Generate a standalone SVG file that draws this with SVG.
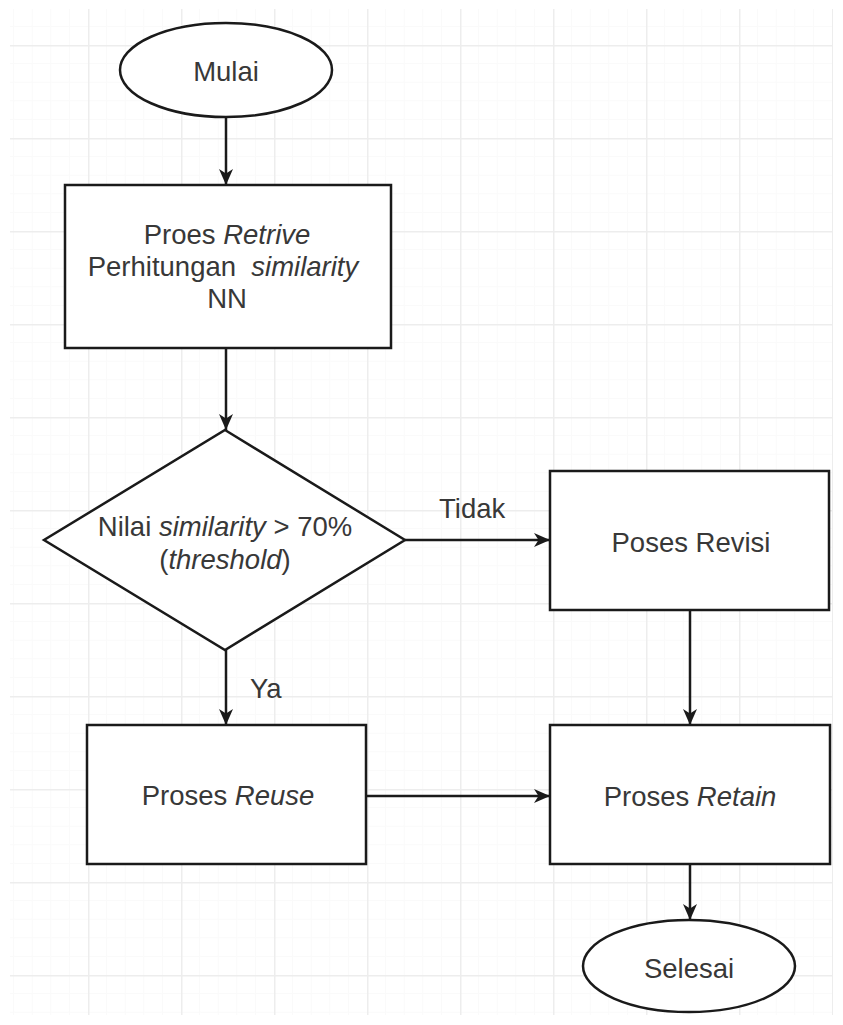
<svg xmlns="http://www.w3.org/2000/svg" width="843" height="1025" viewBox="0 0 843 1025">
  <defs>
    <!-- faint drawing-canvas grid -->
    <pattern id="grid" patternUnits="userSpaceOnUse" x="-5" y="-48" width="93" height="93">
      <path d="M18.6 0V93M37.2 0V93M55.8 0V93M74.4 0V93M0 18.6H93M0 37.2H93M0 55.8H93M0 74.4H93" fill="none" stroke="#fafafa" stroke-width="1"/>
      <path d="M0.5 0V93M0 0.5H93" fill="none" stroke="#ededed" stroke-width="2"/>
    </pattern>
    <marker id="arrow" markerUnits="userSpaceOnUse" markerWidth="18" markerHeight="16" refX="16" refY="7" orient="auto">
      <path d="M0,0 L16,7 L0,14 L4.5,7 Z" fill="#1a1a1a"/>
    </marker>
    <style>
      .shape { fill: #ffffff; stroke: #1a1a1a; stroke-width: 2.5; }
      .edge { fill: none; stroke: #1a1a1a; stroke-width: 2.5; marker-end: url(#arrow); }
      text { font-family: "Liberation Sans", Arial, sans-serif; font-size: 27.5px; fill: #383838; }
      .c { text-anchor: middle; }
      .i { font-style: italic; }
    </style>
  </defs>

  <rect width="843" height="1025" fill="#ffffff"/>
  <rect x="10" y="9" width="823" height="1006" fill="url(#grid)"/>

  <g id="connectors">
    <line class="edge" x1="226" y1="117" x2="226" y2="185"/>
    <line class="edge" x1="226" y1="348" x2="226" y2="430"/>
    <line class="edge" x1="226" y1="650" x2="226" y2="725"/>
    <line class="edge" x1="405" y1="540" x2="550" y2="540"/>
    <line class="edge" x1="690" y1="610" x2="690" y2="725"/>
    <line class="edge" x1="366" y1="796" x2="550" y2="796"/>
    <line class="edge" x1="690" y1="864" x2="690" y2="920"/>
    <text x="439" y="518">Tidak</text>
    <text x="250" y="698">Ya</text>
  </g>

  <g id="start">
    <ellipse class="shape" cx="226" cy="70" rx="106" ry="47"/>
    <text class="c" x="226" y="81">Mulai</text>
  </g>

  <g id="retrieve">
    <rect class="shape" x="65" y="185" width="326" height="163"/>
    <text class="c" x="227" y="244">Proes <tspan class="i">Retrive</tspan></text>
    <text class="c" x="223" y="276" xml:space="preserve">Perhitungan  <tspan class="i">similarity</tspan></text>
    <text class="c" x="227" y="308">NN</text>
  </g>

  <g id="decision">
    <polygon class="shape" points="225,430 405,540 225,650 44,540"/>
    <text class="c" x="225" y="536">Nilai <tspan class="i">similarity</tspan> &gt; 70%</text>
    <text class="c" x="225" y="569">(<tspan class="i">threshold</tspan>)</text>
  </g>

  <g id="revise">
    <rect class="shape" x="550" y="471" width="279" height="139"/>
    <text class="c" x="691" y="552">Poses Revisi</text>
  </g>

  <g id="reuse">
    <rect class="shape" x="87" y="725" width="279" height="139"/>
    <text class="c" x="228" y="805">Proses <tspan class="i">Reuse</tspan></text>
  </g>

  <g id="retain">
    <rect class="shape" x="550" y="725" width="280" height="139"/>
    <text class="c" x="690" y="806">Proses <tspan class="i">Retain</tspan></text>
  </g>

  <g id="end">
    <ellipse class="shape" cx="689" cy="966" rx="106" ry="46"/>
    <text class="c" x="689" y="978">Selesai</text>
  </g>
</svg>
